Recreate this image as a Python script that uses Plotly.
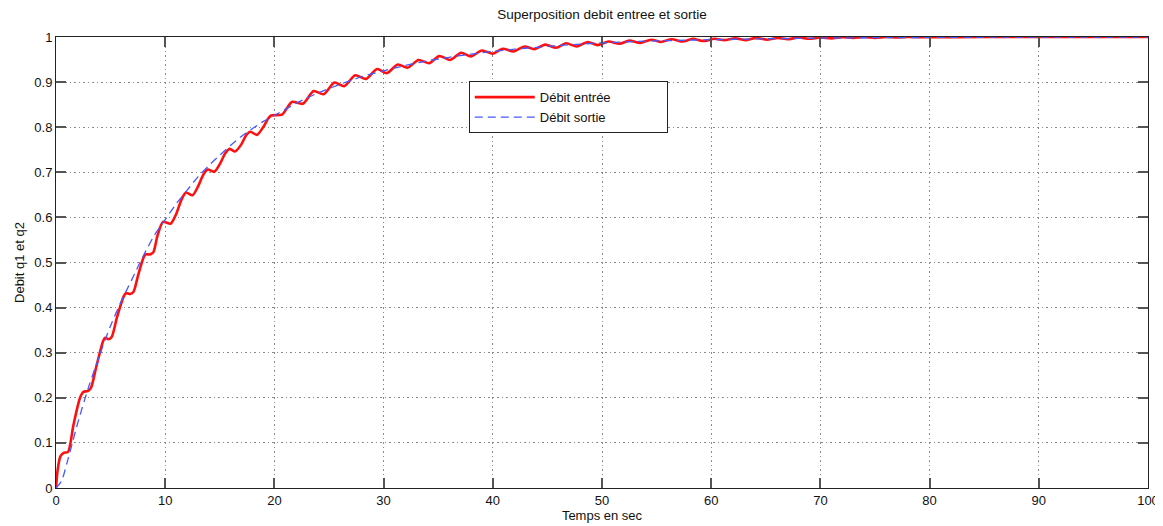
import plotly.graph_objects as go

# Débit entrée (red)
t_in = [0, 0.15, 0.4, 0.7, 1.1, 1.6, 2.2, 2.5, 2.9, 3.2, 3.7, 4.3, 4.5, 4.8, 5.1, 5.6,
        6.2, 6.4, 6.8, 7.1, 7.5, 8.0, 8.2, 8.6, 8.9, 9.3, 9.8,
        10.5, 11.0, 11.5, 11.9, 12.5, 13.0, 13.5, 13.9, 14.5, 15.0, 15.5, 15.9, 16.4,
        17.0, 17.4, 17.8, 18.4, 19.0, 19.4, 19.7,
        20.7, 21.6, 22.6, 23.6, 24.5, 25.5, 26.4, 27.4, 28.4, 29.4, 30.3, 31.3, 32.2,
        33.2, 34.2, 35.1, 36.1, 37.1, 38.0, 39.0, 40.0, 40.9, 41.9, 42.9, 43.8, 44.8,
        45.8, 46.7, 47.7, 48.7, 49.6, 50.6, 51.6, 52.5, 53.5, 54.5, 55.4, 56.4, 57.4,
        58.3, 59.3, 60.3, 61.2, 62.2, 63.2, 64.1, 65.1, 66.1, 67.0, 68.0, 69.0, 70.0,
        71.0, 72.0, 73.0, 74.0, 75.0, 76.0, 77.0, 78.0, 80.0, 85.0, 90.0, 100.0]
q_in = [0, 0.04, 0.07, 0.078, 0.08, 0.14, 0.2, 0.213, 0.215, 0.222, 0.27, 0.325, 0.333, 0.33, 0.335, 0.38,
        0.425, 0.432, 0.43, 0.435, 0.47, 0.51, 0.518, 0.518, 0.522, 0.56, 0.59,
        0.586, 0.607, 0.64, 0.655, 0.649, 0.668, 0.695, 0.706, 0.701, 0.718, 0.742, 0.752, 0.746,
        0.763, 0.782, 0.790, 0.783, 0.801, 0.818, 0.826,
        0.828, 0.856, 0.852, 0.880, 0.873, 0.899, 0.891, 0.915, 0.907, 0.929, 0.920, 0.939, 0.932,
        0.949, 0.942, 0.958, 0.949, 0.965, 0.957, 0.970, 0.963, 0.974, 0.968, 0.979, 0.973, 0.983,
        0.976, 0.986, 0.979, 0.989, 0.982, 0.990, 0.985, 0.992, 0.987, 0.994, 0.989, 0.995, 0.990,
        0.996, 0.991, 0.996, 0.993, 0.997, 0.993, 0.998, 0.994, 0.998, 0.995, 0.999, 0.996, 0.999,
        0.997, 0.9995, 0.998, 1.0, 0.998, 1.0, 0.999, 1.0, 0.9995, 1.0, 1.0, 1.0]

# Débit sortie (blue dashed)
t_out = [0, 0.5, 1, 1.5, 2, 3, 4, 5, 6, 7, 8, 9, 10, 11, 12, 13, 14, 15, 16, 17, 18, 19, 20,
         22, 24, 26, 28, 30, 32, 34, 36, 38, 40, 42, 44, 46, 48, 50, 52, 54, 56, 58, 60,
         65, 70, 75, 80, 85, 90, 95, 100]
q_out = [0, 0.015, 0.055, 0.1, 0.145, 0.225, 0.295, 0.36, 0.415, 0.465, 0.515, 0.56, 0.595,
         0.63, 0.66, 0.69, 0.715, 0.738, 0.76, 0.78, 0.797, 0.813, 0.826,
         0.853, 0.876, 0.895, 0.912, 0.925, 0.937, 0.947, 0.955, 0.962, 0.968, 0.973, 0.977,
         0.981, 0.984, 0.987, 0.989, 0.991, 0.992, 0.993, 0.994,
         0.996, 0.9975, 0.9985, 0.999, 0.9995, 0.9997, 0.9999, 1.0]

x_ticks = [0, 10, 20, 30, 40, 50, 60, 70, 80, 90, 100]
y_ticks = [0, 0.1, 0.2, 0.3, 0.4, 0.5, 0.6, 0.7, 0.8, 0.9, 1]
y_tick_labels = ["0", "0.1", "0.2", "0.3", "0.4", "0.5", "0.6", "0.7", "0.8", "0.9", "1"]

FONT = "Liberation Sans, Arial, sans-serif"
PAD = "\u00a0" * 14  # widen the legend box like the reference

fig = go.Figure()
fig.add_trace(go.Scatter(x=t_in, y=q_in, mode="lines", name="Débit entrée" + PAD,
                         line=dict(color="#ff1010", width=2.6, shape="spline", smoothing=0.7)))
fig.add_trace(go.Scatter(x=t_out, y=q_out, mode="lines", name="Débit sortie" + PAD,
                         line=dict(color="rgb(70,90,255)", width=1.3, dash="8px,5px",
                                   shape="spline", smoothing=0.7)))

axis_common = dict(showline=True, linecolor="#222", linewidth=1, mirror="ticks",
                   ticks="inside", ticklen=10, tickwidth=1.5, tickcolor="#555",
                   showgrid=True, gridcolor="#8a8a8a", griddash="1.5px,3px", gridwidth=1,
                   zeroline=False, automargin=False, ticklabeloverflow="allow",
                   tickfont=dict(family=FONT, size=13, color="#111"))

# page body adds an 8px offset, so the figure is sized to fit the window
fig.update_layout(
    width=1155, height=518,
    margin=dict(l=48, r=15, t=29, b=38),
    paper_bgcolor="white", plot_bgcolor="white",
    title=dict(text="Superposition debit entree et sortie", x=0.5, xref="paper", xanchor="center",
               y=0.987, yanchor="middle", font=dict(family=FONT, size=13.5, color="#111")),
    xaxis=dict(range=[0, 100], tickvals=x_ticks, title=dict(text="Temps en sec", standoff=2,
               font=dict(family=FONT, size=13, color="#111")), **axis_common),
    yaxis=dict(range=[0, 1], tickvals=y_ticks, ticktext=y_tick_labels,
               title=dict(text="Debit q1 et q2", standoff=6,
                          font=dict(family=FONT, size=13, color="#111")), **axis_common),
    legend=dict(x=0.378, y=0.902, xanchor="left", yanchor="top",
                bgcolor="white", bordercolor="#222", borderwidth=1,
                font=dict(family=FONT, size=13, color="#111"),
                itemwidth=60, tracegroupgap=0),
    showlegend=True,
)

fig.write_html("out.html")
